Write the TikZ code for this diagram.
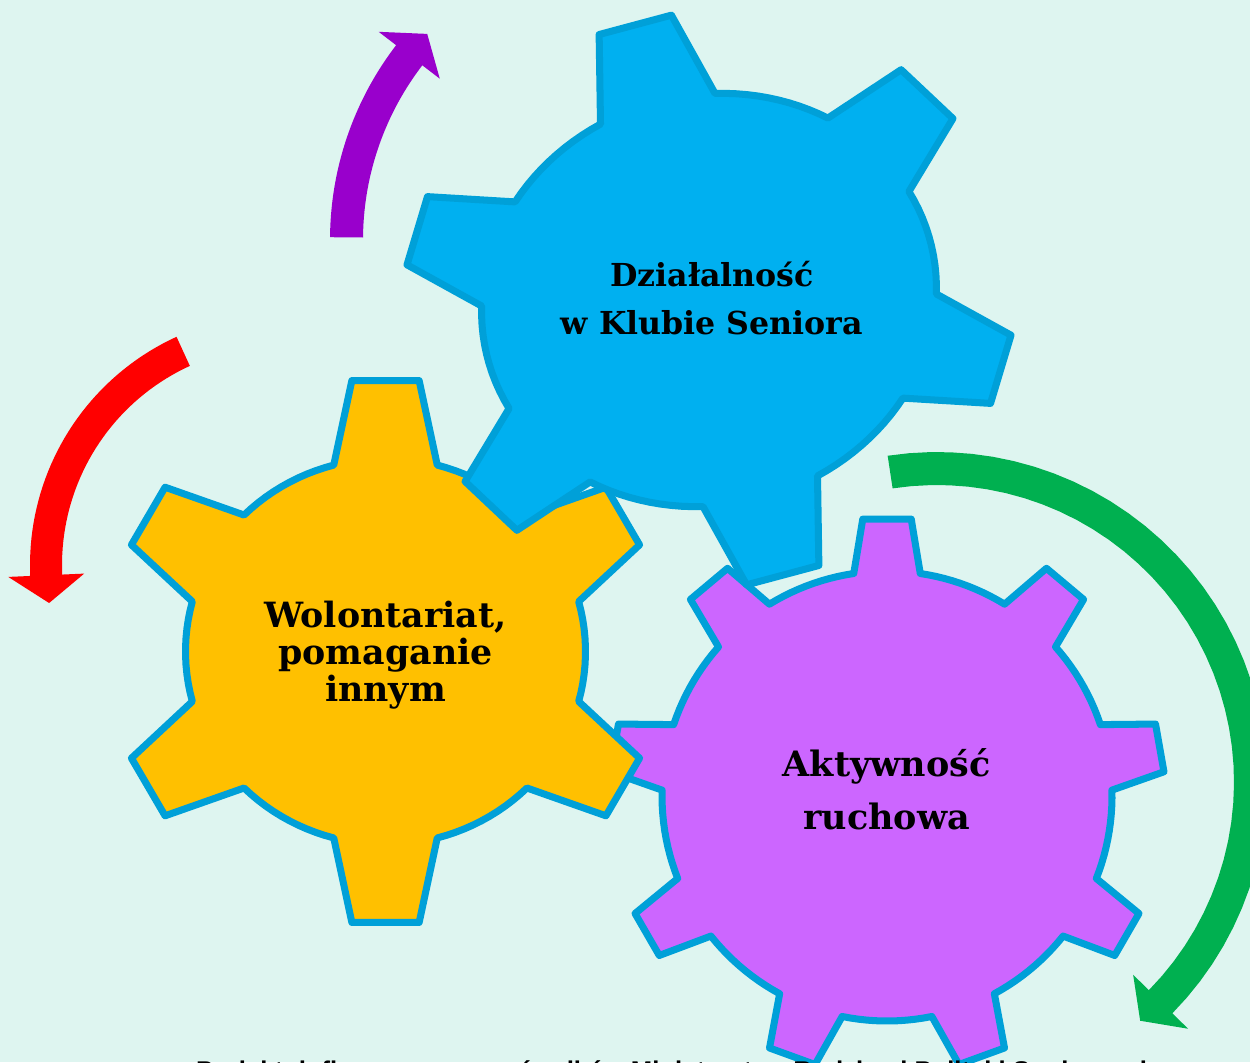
\documentclass[tikz,border=0pt]{standalone}
\usepackage{fontspec}
\setmainfont{DejaVu Serif}
\setsansfont{Liberation Sans}
\definecolor{bgmint}{RGB}{222,245,240}
\definecolor{gearedge}{RGB}{0,160,216}
\definecolor{clubblue}{RGB}{0,176,240}
\definecolor{helpyellow}{RGB}{255,192,0}
\definecolor{movepurple}{RGB}{204,102,255}
\definecolor{arrowviolet}{RGB}{153,0,204}
\definecolor{arrowred}{RGB}{255,0,0}
\definecolor{arrowgreen}{RGB}{0,176,80}
\tikzstyle{gearline} = [draw=gearedge, line width=4pt, line join=round]
\tikzstyle{geartext} = [align=center, font=\bfseries\fontsize{18}{27.5}\selectfont]
\tikzstyle{footer} = [anchor=base west, font=\sffamily\bfseries\fontsize{14.6}{17}\selectfont]
% #1 srodek, #2 zeby, #3 obrot, #4 promienie korpusu, #5 promienie zebow, #6 kat podstawy, #7 kat wierzcholka, #8 kolor
\newcommand{\gearshape}[8]{%
  \begin{scope}[shift={#1}, rotate=#3]
    \filldraw[gearline, fill=#8] ({270-#6}:#4)
      \foreach \k [evaluate=\k as \a using 270+(\k-1)*360/#2,
                   evaluate=\k as \b using 270+\k*360/#2] in {1,...,#2} {
        -- ({\a-#7}:#5) -- ({\a+#7}:#5) -- ({\a+#6}:#4)
        -- plot[domain=\a+#6:\b-#6, samples=12] (\x:#4)
      } -- cycle;
  \end{scope}}
% #1 srodek, #2 kat poczatku, #3 kat konca, #4 promien wewn., #5 promien zewn., #6 kolor
\newcommand{\bentarrow}[6]{%
  \begin{scope}[shift={#1}]
    \pgfmathsetmacro\tipang{#3+sign(#3-#2)*3200/(#4+#5)}
    \fill[#6] (#2:#5) -- plot[domain=#2:#3, samples=40] (\x:#5)
      -- (#3:{#5+22}) -- (\tipang:{(#4+#5)/2}) -- (#3:{#4-22})
      -- plot[domain=#3:#2, samples=40] (\x:#4) -- cycle;
  \end{scope}}

\begin{document}
\begin{tikzpicture}[x=0.02cm, y=-0.02cm]
  % tlo
  \fill[bgmint] (0,0) rectangle (1250,1062);
  \useasboundingbox (0,0) rectangle (1250,1062);
  \clip (0,0) rectangle (1250,1062);

  % strzalki
  \bentarrow{(650,240)}{180.5}{217.5}{287}{320}{arrowviolet}
  \bentarrow{(281,565)}{245.4}{177.5}{219}{251}{arrowred}
  \bentarrow{(937,782)}{-98.6}{44.5}{297}{330}{arrowgreen}

  % kola zebate
  \gearshape{(887,796)}{9}{0}{225 and 225}{278 and 278}{8.5}{5}{movepurple}
  \gearshape{(385.5,651.5)}{6}{0}{200 and 193}{276 and 273}{15}{7}{helpyellow}
  \gearshape{(709,300)}{6}{15}{229 and 205}{307 and 287}{15}{7}{clubblue}

  % napisy
  \node[geartext] (club) at (712,298) {Działalność\\w Klubie Seniora};
  \node[geartext, font=\bfseries\fontsize{19.8}{21.2}\selectfont] (help) at (385.5,655) {Wolontariat,\\pomaganie\\innym};
  \node[geartext, font=\bfseries\fontsize{19.9}{30.2}\selectfont] (move) at (886.5,789) {Aktywność\\ruchowa};

  \node[footer] (note) at (190,1079) {Projekt dofinansowany ze środków Ministerstwa Rodziny i Polityki Społecznej};
\end{tikzpicture}
\end{document}
